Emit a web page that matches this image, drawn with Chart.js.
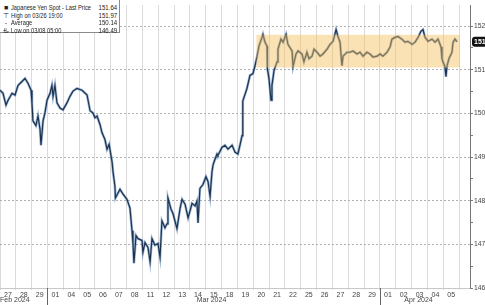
<!DOCTYPE html>
<html>
<head>
<meta charset="utf-8">
<script src="https://cdn.jsdelivr.net/npm/chart.js@4.4.1/dist/chart.umd.min.js"></script>
<style>
  html, body { margin: 0; padding: 0; overflow: hidden; background: #fff; }
  #wrap { position: relative; width: 485px; height: 305px; overflow: hidden; }
  #legend {
    position: absolute; left: 0; top: 0; width: 119px; height: 32px;
    background: #fff; border-right: 1px solid #8a8a8a; border-bottom: 1px solid #8a8a8a;
    font: 6.6px "Liberation Sans", Arial, sans-serif; color: #222;
  }
  #legend .row { position: absolute; left: 2px; right: 2px; height: 8px; line-height: 8px; }
  #legend .mk { position: absolute; left: 0; width: 8px; text-align: center; font-size: 7px; }
  #legend .nm { position: absolute; left: 9px; white-space: nowrap; transform: scaleX(0.87); transform-origin: left center; }
  #legend .vl { position: absolute; right: 0; transform: scaleX(0.92); transform-origin: right center; }
</style>
</head>
<body>
<div id="wrap">
  <canvas id="myChart" width="500" height="305"></canvas>
  <div id="legend"></div>
</div>
<script>
// day labels of the trading days (Feb 27 .. Apr 05)
const dayLabels = ['27','28','29','01','04','05','06','07','08','11','12','13','14','15','18',
  '19','20','21','22','25','26','27','28','29','01','02','03','04','05'];
const months = ['Feb 2024', 'Mar 2024', 'Apr 2024'];
const monthPos = [0, 13.36, 26.44];
const monthBreaks = [3, 24];

// price trace, position in trading days from the left edge
const times = [0.00,0.19,0.38,0.51,0.76,0.95,1.14,1.39,1.58,1.77,1.96,2.02,2.08,2.27,2.40,2.53,2.59,2.72,2.84,2.97,
  3.16,3.28,3.35,3.47,3.60,3.79,3.98,4.23,4.42,4.61,4.86,5.18,5.50,5.69,5.87,6.00,6.13,6.32,6.44,6.63,
  6.76,6.89,7.08,7.14,7.26,7.29,7.58,7.77,8.02,8.21,8.34,8.40,8.46,8.59,8.72,8.97,9.03,9.16,9.35,9.48,
  9.60,9.79,9.98,10.11,10.23,10.42,10.55,10.61,10.80,10.93,11.18,11.37,11.50,11.69,11.88,12.00,12.13,12.32,12.44,12.51,
  12.63,12.82,13.01,13.14,13.27,13.39,13.46,13.58,13.71,13.77,14.02,14.21,14.40,14.66,14.85,15.03,15.16,15.29,15.32,15.34,
  15.35,15.60,15.79,15.98,16.11,16.24,16.36,16.55,16.61,16.74,16.87,16.89,16.99,17.12,17.18,17.31,17.50,17.56,17.75,17.88,
  18.07,18.19,18.45,18.51,18.70,18.83,19.08,19.20,19.39,19.52,19.71,19.84,20.03,20.22,20.40,20.66,20.85,21.04,21.23,21.35,
  21.48,21.60,21.67,21.92,22.11,22.30,22.55,22.74,22.93,23.18,23.37,23.56,23.82,24.01,24.19,24.45,24.64,24.76,24.95,25.14,
  25.39,25.58,25.77,26.03,26.22,26.41,26.59,26.72,26.85,27.04,27.29,27.48,27.67,27.86,27.92,27.98,28.11,28.17,28.24,28.36,
  28.55,28.62,28.74,28.87];
const prices = [150.53,150.46,150.19,150.30,150.46,150.42,150.64,150.73,150.80,150.69,150.53,150.24,149.83,149.72,149.94,149.63,149.27,149.83,150.01,150.30,
  150.46,150.64,150.39,150.64,150.24,150.12,150.08,150.24,150.39,150.51,150.57,150.53,150.42,150.06,150.01,149.90,149.94,149.74,149.56,149.40,
  149.18,149.29,148.89,148.66,148.33,148.06,148.26,148.15,148.03,147.83,147.31,147.02,146.57,147.20,147.13,147.09,146.82,147.04,146.93,146.60,
  147.13,146.98,147.02,146.71,147.54,147.38,147.47,148.06,147.81,147.70,147.36,147.81,148.03,147.92,147.61,147.76,147.94,147.88,147.99,147.49,
  148.28,148.37,148.55,148.44,148.10,148.66,148.82,148.95,149.07,149.04,149.22,149.27,149.18,149.27,149.11,149.07,149.27,149.49,149.79,149.97,
  150.28,150.57,150.87,150.91,151.09,151.31,151.54,151.74,151.81,151.63,151.54,151.02,150.80,150.30,150.64,150.98,151.18,151.47,151.70,151.63,
  151.81,151.58,151.43,151.07,151.36,151.43,151.36,151.18,151.40,151.25,151.31,151.47,151.40,151.31,151.36,151.47,151.58,151.65,151.92,151.76,
  151.63,151.09,151.31,151.40,151.40,151.43,151.36,151.40,151.31,151.40,151.36,151.29,151.31,151.36,151.31,151.40,151.52,151.70,151.74,151.76,
  151.70,151.63,151.65,151.58,151.63,151.74,151.88,151.92,151.74,151.65,151.70,151.63,151.70,151.52,151.25,151.18,151.07,150.84,151.09,151.25,
  151.40,151.63,151.70,151.64];

// highlighted range box
const bandX = [16.2, 29.05];
const bandY = [151.05, 151.8];

const legendMarks = ['\u25A0', '\u22A4', '-+-', '\u22A5'];
const legendNames = ['Japanese Yen Spot - Last Price', 'High on 03/26 19:00', 'Average', 'Low on 03/08 05:00'];
const legendValues = ['151.64', '151.97', '150.14', '146.49'];
const lastPrice = 151.64;

const legend = document.getElementById('legend');
legendNames.forEach((name, i) => {
  const row = document.createElement('div');
  row.className = 'row';
  row.style.top = (4 + i * 7.5) + 'px';
  row.innerHTML = '<span class="mk"></span><span class="nm"></span><span class="vl"></span>';
  row.children[0].textContent = legendMarks[i];
  row.children[1].textContent = name;
  row.children[2].textContent = legendValues[i];
  legend.appendChild(row);
});

const points = times.map((t, i) => ({ x: t, y: prices[i] }));

const extras = {
  id: 'extras',
  afterDatasetsDraw(chart) {
    const { ctx, scales: { x, y } } = chart;
    const l = x.getPixelForValue(bandX[0]), r = x.getPixelForValue(bandX[1]);
    const t = y.getPixelForValue(bandY[1]), b = y.getPixelForValue(bandY[0]);
    ctx.save();
    ctx.fillStyle = 'rgba(243,190,90,0.45)';
    ctx.fillRect(l, t, r - l, b - t);
    ctx.restore();
  },
  afterDraw(chart) {
    const { ctx, scales: { x, y }, chartArea } = chart;
    ctx.save();
    // month separators under the axis
    ctx.strokeStyle = '#666';
    ctx.lineWidth = 1;
    monthBreaks.forEach(d => {
      const px = Math.round(x.getPixelForValue(d)) + 0.5;
      ctx.beginPath();
      ctx.moveTo(px, chartArea.bottom);
      ctx.lineTo(px, 305);
      ctx.stroke();
    });
    // month labels
    ctx.fillStyle = '#444';
    ctx.font = '7px "Liberation Sans", Arial, sans-serif';
    ctx.textBaseline = 'middle';
    months.forEach((m, i) => {
      ctx.textAlign = i === 0 ? 'left' : 'center';
      ctx.fillText(m, x.getPixelForValue(monthPos[i]), 300);
    });
    // last price tag
    const py = y.getPixelForValue(lastPrice);
    ctx.fillStyle = '#111';
    ctx.beginPath();
    ctx.roundRect(chartArea.right + 2, py - 5, 30, 10, 3);
    ctx.fill();
    ctx.fillStyle = '#fff';
    ctx.textAlign = 'left';
    ctx.font = 'bold 7px "Liberation Sans", Arial, sans-serif';
    ctx.fillText(lastPrice.toFixed(2), chartArea.right + 4, py + 0.5);
    ctx.restore();
  }
};

const canvas = document.getElementById('myChart');

const config = {
  type: 'line',
  data: {
    datasets: [
      {
        data: points,
        borderColor: '#1c324e',
        borderWidth: 1.2,
        pointRadius: 0,
        tension: 0
      },
      {
        data: points,
        borderColor: 'rgba(80,125,180,0.55)',
        borderWidth: 2.6,
        pointRadius: 0,
        tension: 0
      }
    ]
  },
  options: {
    responsive: false,
    animation: false,
    layout: { padding: 0 },
    plugins: { legend: { display: false }, tooltip: { enabled: false } },
    scales: {
      x: {
        type: 'linear',
        min: 0,
        max: 29.69,
        afterFit: s => { s.height = 17; s.paddingLeft = 0; s.paddingRight = 0; },
        grid: { color: '#dadada', lineWidth: 1, tickLength: 2 },
        border: { display: true, color: '#c8c8c8', dash: [] },
        ticks: {
          stepSize: 1,
          includeBounds: false,
          autoSkip: false,
          maxRotation: 0,
          labelOffset: 8,
          padding: 1,
          color: '#444',
          font: { family: 'Liberation Sans', size: 7 },
          callback: v => dayLabels[v] ?? ''
        }
      },
      y: {
        position: 'right',
        min: 146,
        max: 152.48,
        afterFit: s => { s.width = 30; },
        grid: {
          color: c => Number.isInteger(c.tick.value) ? '#b0b0b0' : 'rgba(0,0,0,0)',
          tickColor: '#777',
          tickLength: 3
        },
        border: { display: true, color: '#777', dash: [2, 2] },
        ticks: {
          stepSize: 0.5,
          includeBounds: false,
          padding: 1,
          color: '#444',
          font: { family: 'Liberation Sans', size: 6.8 },
          callback: v => Number.isInteger(v) ? v.toFixed(2) : ''
        }
      }
    }
  },
  plugins: [extras]
};

const chart = new Chart(canvas, config);
</script>
</body>
</html>
